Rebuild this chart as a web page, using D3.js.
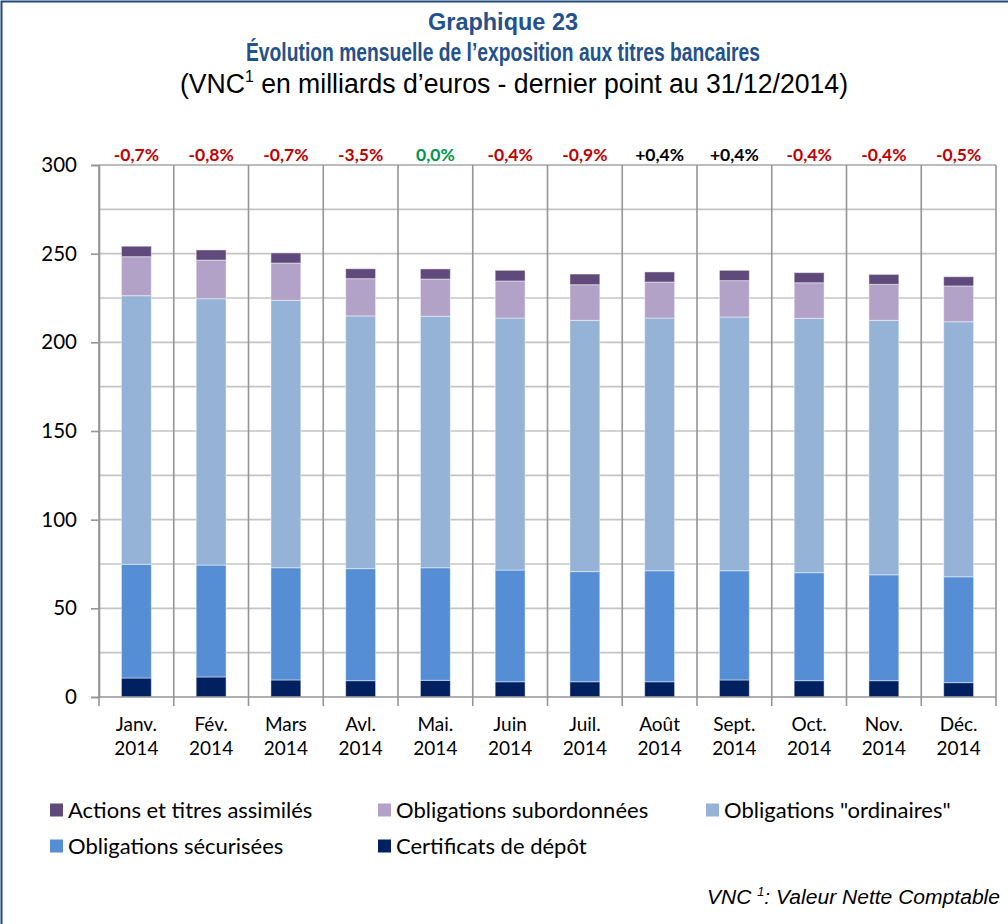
<!DOCTYPE html>
<html>
<head>
<meta charset="utf-8">
<script src="https://cdn.jsdelivr.net/npm/d3@7"></script>
<style>
  html, body { margin: 0; padding: 0; background: #ffffff; }
  svg { display: block; }
</style>
</head>
<body>
<svg id="chart" width="1008" height="924"></svg>
<script>
// Monthly exposure to bank securities, net book value (bn EUR), 2014
const months = ["Janv.", "Fév.", "Mars", "Avl.", "Mai.", "Juin", "Juil.", "Août", "Sept.", "Oct.", "Nov.", "Déc."];
const year = "2014";

const certificats  = [10.7, 11.3, 9.6, 9.2, 9.4, 8.6, 8.6, 8.6, 9.6, 9.2, 9.2, 8.1];
const securisees   = [64.1, 63.1, 63.3, 63.2, 63.5, 63.0, 62.1, 62.6, 61.6, 60.9, 59.7, 59.7];
const ordinaires   = [151.5, 150.2, 150.8, 142.5, 141.8, 142.1, 141.7, 142.5, 143.1, 143.4, 143.5, 143.8];
const subordonnees = [22.0, 21.8, 21.0, 21.0, 21.0, 20.9, 20.1, 20.3, 20.5, 20.1, 20.3, 20.2];
const actions      = [5.9, 5.7, 5.7, 5.6, 5.7, 6.0, 6.0, 5.7, 5.8, 5.7, 5.6, 5.2];

// monthly change of the total, shown above each column
const variations = ["-0,7%", "-0,8%", "-0,7%", "-3,5%", "0,0%", "-0,4%", "-0,9%", "+0,4%", "+0,4%", "-0,4%", "-0,4%", "-0,5%"];

const yTicks = [0, 50, 100, 150, 200, 250, 300];

const seriesDefs = [
  { key: "cert", name: "Certificats de dépôt",        values: certificats,  color: "#002060" },
  { key: "sec",  name: "Obligations sécurisées",      values: securisees,   color: "#558ed5" },
  { key: "ord",  name: "Obligations \"ordinaires\"",  values: ordinaires,   color: "#95b3d7" },
  { key: "sub",  name: "Obligations subordonnées",    values: subordonnees, color: "#b3a2c7" },
  { key: "act",  name: "Actions et titres assimilés", values: actions,      color: "#604a7b" }
];

const legendOrder = ["act", "sub", "ord", "sec", "cert"];

const rows = months.map((m, i) => {
  const r = { month: m };
  seriesDefs.forEach(s => { r[s.key] = s.values[i]; });
  return r;
});

const svg = d3.select("#chart");
const W = 1008, H = 924;
const frameColor = "#1f497d";
const titleColor = "#24518b";
const calibri = "Lato, Carlito, Calibri, 'Open Sans', sans-serif";
const narrow = "'Liberation Sans Narrow', 'Arial Narrow', 'Liberation Sans', Arial, sans-serif";

// outer frame (left and top edges)
svg.append("path")
  .attr("d", `M1.5,${H} L1.5,1.5 L${W},1.5`)
  .attr("fill", "none")
  .attr("stroke", frameColor)
  .attr("stroke-width", 2);

// titles
svg.append("text")
  .attr("x", 503).attr("y", 30)
  .attr("text-anchor", "middle")
  .attr("font-family", narrow).attr("font-weight", "bold").attr("font-size", 24)
  .attr("fill", titleColor)
  .attr("textLength", 150).attr("lengthAdjust", "spacingAndGlyphs")
  .text("Graphique 23");

svg.append("text")
  .attr("x", 503).attr("y", 61)
  .attr("text-anchor", "middle")
  .attr("font-family", narrow).attr("font-weight", "bold").attr("font-size", 26)
  .attr("fill", titleColor)
  .attr("textLength", 514).attr("lengthAdjust", "spacingAndGlyphs")
  .text("Évolution mensuelle de l’exposition aux titres bancaires");

const sub = svg.append("text")
  .attr("x", 514).attr("y", 93)
  .attr("text-anchor", "middle")
  .attr("font-family", narrow).attr("font-size", 27)
  .attr("fill", "#000")
  .attr("textLength", 668).attr("lengthAdjust", "spacingAndGlyphs");
sub.append("tspan").text("(VNC");
sub.append("tspan").attr("dy", -11).attr("font-size", 16).text("1");
sub.append("tspan").attr("dy", 11).text(" en milliards d’euros - dernier point au 31/12/2014)");

// plot area
const x0 = 99, x1 = 996, yTop = 165, yBase = 697;

const x = d3.scaleBand()
  .domain(months)
  .range([x0, x1])
  .paddingInner(0.6)
  .paddingOuter(0.3);

const y = d3.scaleLinear()
  .domain([0, 300])
  .range([yBase, yTop]);

const step = x.step();

// horizontal gridlines every 25
const grid = svg.append("g");
grid.selectAll("line.h")
  .data(d3.range(25, 301, 25))
  .join("line")
  .attr("x1", x0).attr("x2", x1)
  .attr("y1", d => y(d)).attr("y2", d => y(d))
  .attr("stroke", d => d === 300 ? "#a6a6a6" : "#c4c4c4")
  .attr("stroke-width", 1.6);

// vertical separators between months (extend below the axis as ticks)
grid.selectAll("line.v")
  .data(d3.range(0, months.length + 1))
  .join("line")
  .attr("x1", i => x0 + i * step).attr("x2", i => x0 + i * step)
  .attr("y1", yTop).attr("y2", yBase + 9)
  .attr("stroke", "#959595")
  .attr("stroke-width", 1.6);

// stacked bars
const stack = d3.stack().keys(seriesDefs.map(s => s.key));
const stacked = stack(rows);
const colorOf = Object.fromEntries(seriesDefs.map(s => [s.key, s.color]));

svg.append("g")
  .selectAll("g")
  .data(stacked)
  .join("g")
  .attr("fill", d => colorOf[d.key])
  .selectAll("rect")
  .data(d => d)
  .join("rect")
  .attr("x", d => x(d.data.month))
  .attr("width", x.bandwidth())
  .attr("y", d => y(d[1]))
  .attr("height", d => y(d[0]) - y(d[1]))
  .attr("stroke", "rgba(255,255,255,0.45)")
  .attr("stroke-width", 1);

// y axis
const yAxis = d3.axisLeft(y)
  .tickValues(yTicks)
  .tickSize(8)
  .tickPadding(14)
  .tickFormat(d3.format("d"));

const ya = svg.append("g")
  .attr("transform", `translate(${x0},0)`)
  .call(yAxis);
ya.select(".domain").attr("stroke", "#959595").attr("stroke-width", 1.6);
ya.selectAll(".tick line").attr("stroke", "#959595").attr("stroke-width", 1.6);
ya.selectAll(".tick text")
  .attr("font-family", calibri).attr("font-size", 20.5).attr("fill", "#000");

// x axis line
svg.append("line")
  .attr("x1", x0).attr("x2", x1)
  .attr("y1", yBase).attr("y2", yBase)
  .attr("stroke", "#959595").attr("stroke-width", 1.6);

// x labels (month / year)
const xl = svg.append("g")
  .selectAll("text")
  .data(months)
  .join("text")
  .attr("x", d => x(d) + x.bandwidth() / 2)
  .attr("y", 731)
  .attr("text-anchor", "middle")
  .attr("font-family", calibri).attr("font-size", 19).attr("fill", "#000");
xl.append("tspan").text(d => d);
xl.append("tspan")
  .attr("x", d => x(d) + x.bandwidth() / 2)
  .attr("dy", 24)
  .text(year);

// monthly variation labels
svg.append("g")
  .selectAll("text")
  .data(variations.map((v, i) => ({ v, m: months[i] })))
  .join("text")
  .attr("x", d => x(d.m) + x.bandwidth() / 2)
  .attr("y", 161)
  .attr("text-anchor", "middle")
  .attr("font-family", calibri).attr("font-weight", "bold").attr("font-size", 17.5)
  .attr("fill", d => d.v.startsWith("-") ? "#c00000" : (d.v.startsWith("+") ? "#000000" : "#00944a"))
  .text(d => d.v);

// legend
const legendPos = [
  { x: 50,  y: 810 }, { x: 378, y: 810 }, { x: 706, y: 810 },
  { x: 50,  y: 846 }, { x: 378, y: 846 }
];
const lg = svg.append("g")
  .selectAll("g")
  .data(legendOrder.map(k => seriesDefs.find(s => s.key === k)))
  .join("g")
  .attr("transform", (d, i) => `translate(${legendPos[i].x},${legendPos[i].y})`);
lg.append("rect")
  .attr("x", 0).attr("y", -6.5)
  .attr("width", 13).attr("height", 13)
  .attr("fill", d => d.color);
lg.append("text")
  .attr("x", 18).attr("y", 7.5)
  .attr("font-family", calibri).attr("font-size", 22).attr("fill", "#000")
  .text(d => d.name);

// footnote
const fn = svg.append("text")
  .attr("x", 1000).attr("y", 904)
  .attr("text-anchor", "end")
  .attr("font-family", narrow).attr("font-style", "italic").attr("font-size", 20)
  .attr("fill", "#000")
  .attr("textLength", 293).attr("lengthAdjust", "spacingAndGlyphs");
fn.append("tspan").text("VNC ");
fn.append("tspan").attr("dy", -8).attr("font-size", 12).text("1");
fn.append("tspan").attr("dy", 8).text(": Valeur Nette Comptable");
</script>
</body>
</html>
